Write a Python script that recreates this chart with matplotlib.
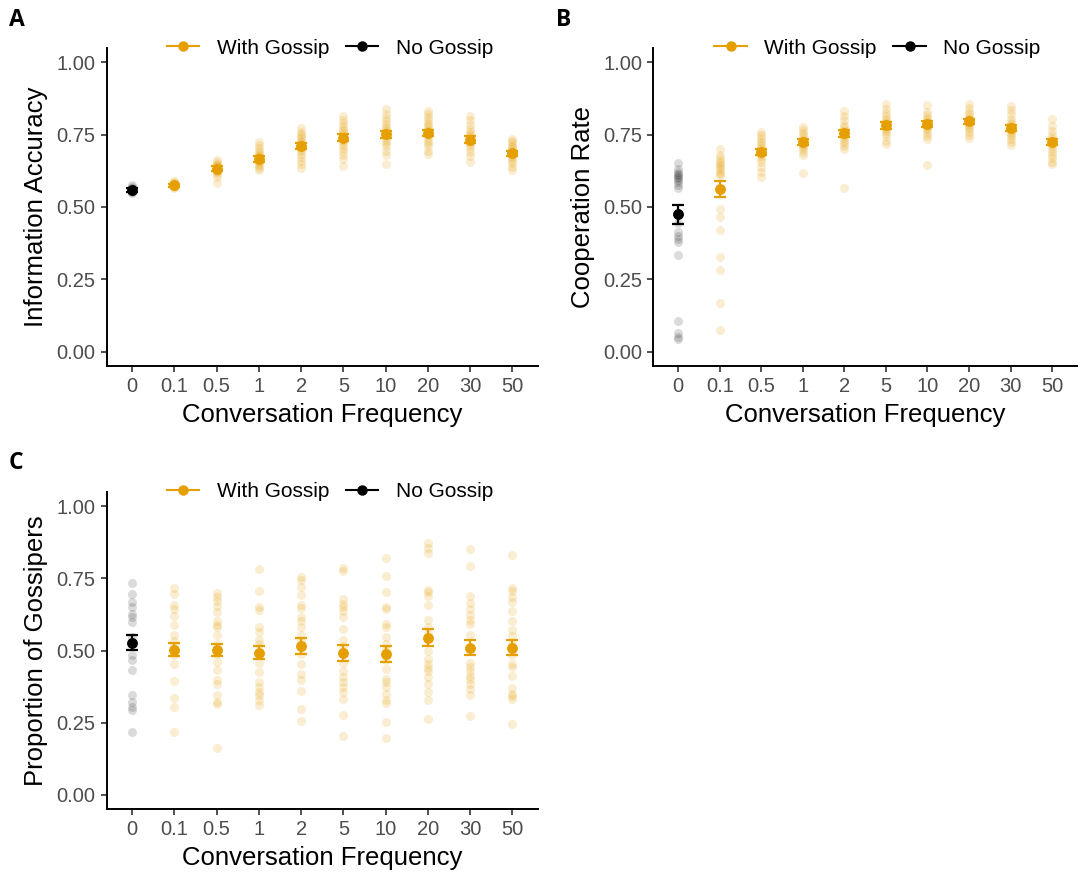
import matplotlib
matplotlib.use("Agg")
import matplotlib.pyplot as plt
from matplotlib.lines import Line2D
import numpy as np

plt.rcParams["font.family"] = ["Liberation Sans", "DejaVu Sans"]

# ---- data -------------------------------------------------------------
freq_labels = ["0", "0.1", "0.5", "1", "2", "5", "10", "20", "30", "50"]

# Panel A: information accuracy (individual runs per condition)
acc_no_gossip = [0.548, 0.552, 0.555, 0.557, 0.559, 0.56, 0.561, 0.563, 0.565, 0.57, 0.575]
acc_gossip = [
    [0.566, 0.57, 0.572, 0.574, 0.575, 0.577, 0.579, 0.582, 0.586, 0.59],
    [0.584, 0.605, 0.615, 0.62, 0.625, 0.628, 0.632, 0.635, 0.638, 0.642, 0.645, 0.65, 0.655, 0.662],
    [0.628, 0.635, 0.642, 0.65, 0.655, 0.66, 0.665, 0.668, 0.672, 0.676, 0.68, 0.688, 0.695, 0.705, 0.715, 0.726],
    [0.636, 0.648, 0.66, 0.672, 0.685, 0.695, 0.7, 0.706, 0.712, 0.718, 0.724, 0.73, 0.738, 0.745, 0.752, 0.76, 0.772],
    [0.642, 0.665, 0.68, 0.695, 0.705, 0.715, 0.725, 0.733, 0.74, 0.748, 0.755, 0.762, 0.77, 0.78, 0.79, 0.8, 0.815],
    [0.649, 0.68, 0.695, 0.71, 0.72, 0.73, 0.74, 0.748, 0.755, 0.762, 0.77, 0.778, 0.787, 0.797, 0.808, 0.822, 0.838],
    [0.683, 0.695, 0.71, 0.72, 0.73, 0.74, 0.748, 0.755, 0.762, 0.768, 0.775, 0.783, 0.792, 0.8, 0.81, 0.82, 0.832],
    [0.657, 0.675, 0.69, 0.703, 0.713, 0.722, 0.728, 0.734, 0.74, 0.746, 0.752, 0.76, 0.77, 0.785, 0.8, 0.815],
    [0.628, 0.64, 0.652, 0.66, 0.668, 0.675, 0.682, 0.688, 0.694, 0.7, 0.706, 0.712, 0.72, 0.728, 0.735],
]
acc_mean_no = 0.559
acc_err_no = 0.006
acc_mean = [0.575, 0.632, 0.667, 0.711, 0.740, 0.752, 0.757, 0.733, 0.686]
acc_err = [0.006, 0.009, 0.01, 0.011, 0.011, 0.012, 0.011, 0.011, 0.009]

# Panel B: cooperation rate
coop_no_gossip = [0.651, 0.63, 0.62, 0.615, 0.61, 0.605, 0.60, 0.595, 0.585, 0.575, 0.565,
                  0.445, 0.415, 0.40, 0.39, 0.38, 0.335, 0.107, 0.064, 0.05, 0.045]
coop_gossip = [
    [0.70, 0.68, 0.668, 0.66, 0.652, 0.645, 0.638, 0.63, 0.622, 0.615, 0.61, 0.492, 0.467, 0.42, 0.327, 0.282, 0.169, 0.073],
    [0.603, 0.62, 0.64, 0.655, 0.665, 0.675, 0.682, 0.69, 0.697, 0.705, 0.712, 0.72, 0.73, 0.74, 0.75, 0.761],
    [0.616, 0.68, 0.69, 0.7, 0.708, 0.715, 0.72, 0.727, 0.733, 0.74, 0.748, 0.755, 0.765, 0.775],
    [0.565, 0.699, 0.71, 0.72, 0.73, 0.738, 0.745, 0.752, 0.76, 0.768, 0.775, 0.785, 0.8, 0.815, 0.833],
    [0.717, 0.73, 0.745, 0.755, 0.763, 0.77, 0.777, 0.784, 0.79, 0.797, 0.805, 0.815, 0.825, 0.84, 0.856],
    [0.645, 0.734, 0.745, 0.755, 0.765, 0.773, 0.78, 0.787, 0.793, 0.8, 0.808, 0.818, 0.83, 0.852],
    [0.74, 0.75, 0.76, 0.77, 0.778, 0.785, 0.792, 0.798, 0.805, 0.812, 0.82, 0.83, 0.842, 0.856],
    [0.714, 0.725, 0.735, 0.745, 0.753, 0.76, 0.767, 0.774, 0.78, 0.787, 0.795, 0.805, 0.82, 0.835, 0.85],
    [0.648, 0.655, 0.668, 0.68, 0.69, 0.7, 0.71, 0.718, 0.725, 0.732, 0.74, 0.75, 0.762, 0.78, 0.804],
]
coop_mean_no = 0.475
coop_err_no = 0.033
coop_mean = [0.561, 0.691, 0.724, 0.755, 0.782, 0.787, 0.796, 0.774, 0.726]
coop_err = [0.028, 0.011, 0.011, 0.012, 0.011, 0.012, 0.009, 0.01, 0.01]

# Panel C: proportion of gossipers
gsp_no_gossip = [0.733, 0.695, 0.669, 0.649, 0.626, 0.615, 0.598, 0.546, 0.483, 0.466,
                 0.433, 0.347, 0.322, 0.305, 0.293, 0.218]
gsp_gossip = [
    [0.716, 0.695, 0.659, 0.644, 0.621, 0.590, 0.552, 0.534, 0.517, 0.486, 0.454, 0.393, 0.337, 0.306, 0.216],
    [0.698, 0.684, 0.672, 0.655, 0.632, 0.603, 0.590, 0.580, 0.552, 0.523, 0.489, 0.460, 0.431, 0.397,
     0.383, 0.347, 0.322, 0.316, 0.161],
    [0.784, 0.707, 0.649, 0.640, 0.583, 0.563, 0.537, 0.523, 0.456, 0.425, 0.391, 0.374, 0.356, 0.345,
     0.328, 0.310],
    [0.755, 0.744, 0.721, 0.693, 0.659, 0.647, 0.615, 0.603, 0.580, 0.552, 0.534, 0.489, 0.454, 0.420,
     0.397, 0.360, 0.299, 0.256],
    [0.785, 0.776, 0.678, 0.661, 0.649, 0.636, 0.615, 0.575, 0.537, 0.514, 0.489, 0.456, 0.428, 0.407,
     0.391, 0.374, 0.356, 0.333, 0.276, 0.203],
    [0.822, 0.759, 0.701, 0.652, 0.644, 0.592, 0.580, 0.546, 0.523, 0.506, 0.466, 0.437, 0.400, 0.391,
     0.374, 0.351, 0.328, 0.319, 0.253, 0.198],
    [0.874, 0.856, 0.836, 0.709, 0.701, 0.690, 0.659, 0.606, 0.580, 0.557, 0.500, 0.471, 0.454, 0.441,
     0.428, 0.407, 0.385, 0.356, 0.328, 0.264],
    [0.851, 0.791, 0.690, 0.663, 0.644, 0.624, 0.606, 0.592, 0.552, 0.456, 0.443, 0.428, 0.412, 0.400,
     0.383, 0.365, 0.347, 0.272],
    [0.831, 0.716, 0.707, 0.684, 0.667, 0.638, 0.602, 0.571, 0.551, 0.523, 0.483, 0.454, 0.443, 0.410,
     0.371, 0.351, 0.342, 0.333, 0.247],
]
gsp_mean_no = 0.527
gsp_err_no = 0.025
gsp_mean = [0.503, 0.502, 0.493, 0.517, 0.492, 0.489, 0.544, 0.509, 0.509]
gsp_err = [0.022, 0.022, 0.023, 0.028, 0.027, 0.028, 0.029, 0.026, 0.026]

ORANGE = "#E69F00"
BLACK = "#000000"
TICK_GREY = "#4D4D4D"

W, H = 1080, 876
fig = plt.figure(figsize=(W / 100, H / 100), dpi=100)


def px_axes(left, top, right, bottom):
    return fig.add_axes([left / W, 1 - bottom / H, (right - left) / W, (bottom - top) / H])


def draw_panel(ax, no_pts, g_pts, m_no, e_no, m_g, e_g, ylabel):
    n = len(freq_labels)
    xs = np.arange(n)
    # individual runs
    ax.scatter(np.full(len(no_pts), xs[0]), no_pts, s=42, color=BLACK, alpha=0.14,
               linewidths=0, zorder=2)
    for i, pts in enumerate(g_pts, start=1):
        ax.scatter(np.full(len(pts), xs[i]), pts, s=42, color=ORANGE, alpha=0.18,
                   linewidths=0, zorder=2)
    # means with error bars
    ax.errorbar([xs[0]], [m_no], yerr=[e_no], fmt="o", color=BLACK, ms=6.8,
                capsize=4.5, elinewidth=1.6, capthick=1.6, zorder=4)
    ax.errorbar(xs[1:], m_g, yerr=e_g, fmt="o", color=ORANGE, ms=6.8,
                capsize=4.5, elinewidth=1.6, capthick=1.6, zorder=4)

    ax.set_xlim(-0.6, n - 1 + 0.6)
    ax.set_ylim(-0.05, 1.05)
    ax.set_xticks(xs)
    ax.set_xticklabels(freq_labels)
    ax.set_yticks([0, 0.25, 0.5, 0.75, 1.0])
    ax.set_yticklabels(["0.00", "0.25", "0.50", "0.75", "1.00"])
    for side in ("top", "right"):
        ax.spines[side].set_visible(False)
    for side in ("left", "bottom"):
        ax.spines[side].set_linewidth(1.4)
        ax.spines[side].set_color("black")
    ax.tick_params(axis="both", length=4, width=1.2, color="#333333",
                   labelsize=14.5, labelcolor=TICK_GREY, pad=4)
    ax.set_xlabel("Conversation Frequency", fontsize=18.5, labelpad=5)
    ax.set_ylabel(ylabel, fontsize=18.5, labelpad=6)


def add_legend(cx, cy):
    handles = [
        Line2D([0], [0], color=ORANGE, marker="o", ms=6.5, lw=1.5),
        Line2D([0], [0], color=BLACK, marker="o", ms=6.5, lw=1.5),
    ]
    fig.legend(handles, ["With Gossip", "No Gossip"], loc="center",
               bbox_to_anchor=(cx / W, 1 - cy / H), ncol=2, frameon=False,
               fontsize=15, handlelength=1.55, handletextpad=0.85,
               columnspacing=0.8, borderaxespad=0, borderpad=0)


axA = px_axes(106.7, 48, 537.7, 366)
draw_panel(axA, acc_no_gossip, acc_gossip, acc_mean_no, acc_err_no,
           acc_mean, acc_err, "Information Accuracy")
axB = px_axes(653.3, 48, 1077, 366)
draw_panel(axB, coop_no_gossip, coop_gossip, coop_mean_no, coop_err_no,
           coop_mean, coop_err, "Cooperation Rate")
axC = px_axes(106.7, 491.7, 537.7, 809.3)
draw_panel(axC, gsp_no_gossip, gsp_gossip, gsp_mean_no, gsp_err_no,
           gsp_mean, gsp_err, "Proportion of Gossipers")

add_legend(330, 48)
add_legend(877.5, 48)
add_legend(330, 491.7)

for letter, x, y in (("A", 9, 20), ("B", 556, 20), ("C", 9, 463)):
    fig.text(x / W, 1 - y / H, letter, fontsize=16.5, fontweight="bold",
             family=["Open Sans", "DejaVu Sans"], va="center", ha="left")

fig.savefig("out.png", dpi=100)
